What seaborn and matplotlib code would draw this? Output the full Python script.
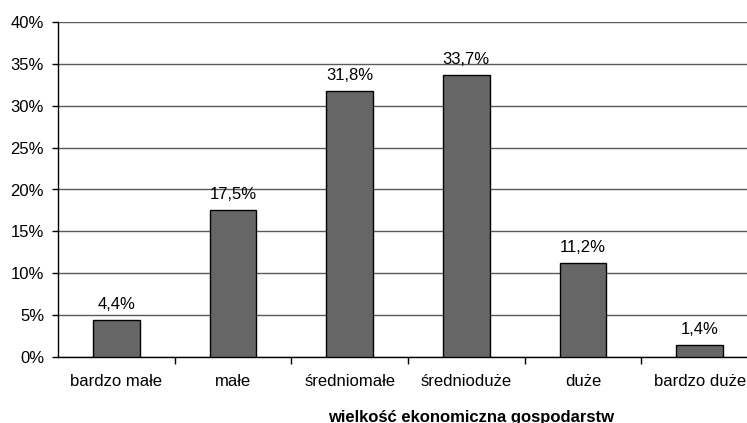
import matplotlib
matplotlib.use("Agg")
import matplotlib.pyplot as plt
import seaborn as sns
import pandas as pd
from matplotlib.ticker import FuncFormatter, MultipleLocator

categories = ["bardzo małe", "małe", "średniomałe", "średnioduże", "duże", "bardzo duże"]
values = [4.4, 17.5, 31.8, 33.7, 11.2, 1.4]
labels = ["4,4%", "17,5%", "31,8%", "33,7%", "11,2%", "1,4%"]
xlabel = "wielkość ekonomiczna gospodarstw"

sns.set_theme(style="white")
plt.rcParams['font.family'] = ['Liberation Sans', 'DejaVu Sans']

df = pd.DataFrame({"cat": categories, "val": values})

W, H = 747, 423
fig = plt.figure(figsize=(W / 100, H / 100), dpi=100)
left, right, top, bottom = 58, 758, 22, 357
ax = fig.add_axes([left / W, (H - bottom) / H, (right - left) / W, (bottom - top) / H])

sns.barplot(data=df, x="cat", y="val", color="#666666", width=0.40,
            edgecolor="black", linewidth=1.0, saturation=1, ax=ax, zorder=3)

ax.set_ylim(0, 40)
ax.set_xlim(-0.5, len(categories) - 0.5)
ax.yaxis.set_major_locator(MultipleLocator(5))
ax.yaxis.set_major_formatter(FuncFormatter(lambda v, p: f"{int(v)}%"))
ax.grid(axis="y", color="#5a5a5a", linewidth=1.0, zorder=0)
ax.set_axisbelow(True)

for s in ["top", "right"]:
    ax.spines[s].set_visible(False)
for s in ["left", "bottom"]:
    ax.spines[s].set_color("black")
    ax.spines[s].set_linewidth(1.0)

# category ticks at boundaries
ax.set_xticks([i + 0.5 for i in range(len(categories) - 1)], minor=False)
ax.set_xticklabels([])
ax.set_xticks(range(len(categories)), minor=True)
ax.set_xticklabels(categories, minor=True, fontsize=12)
ax.tick_params(axis="x", which="major", direction="out", length=5, width=1, color="black", bottom=True)
ax.tick_params(axis="x", which="minor", length=0, pad=12, colors="black")
ax.tick_params(axis="y", direction="out", length=4, width=1, color="black", left=True,
               labelsize=12, pad=6, labelcolor="black")

for i, (v, t) in enumerate(zip(values, labels)):
    ax.annotate(t, xy=(i, v), xytext=(0, 8), textcoords="offset points",
                ha="center", va="baseline", fontsize=12, color="black")

ax.set_xlabel("")
ax.set_ylabel("")
fig.text(471 / W, 1.5 / H, xlabel, ha="center", va="baseline", fontsize=12,
         fontweight="bold", color="black")

fig.savefig("out.png", dpi=100)
